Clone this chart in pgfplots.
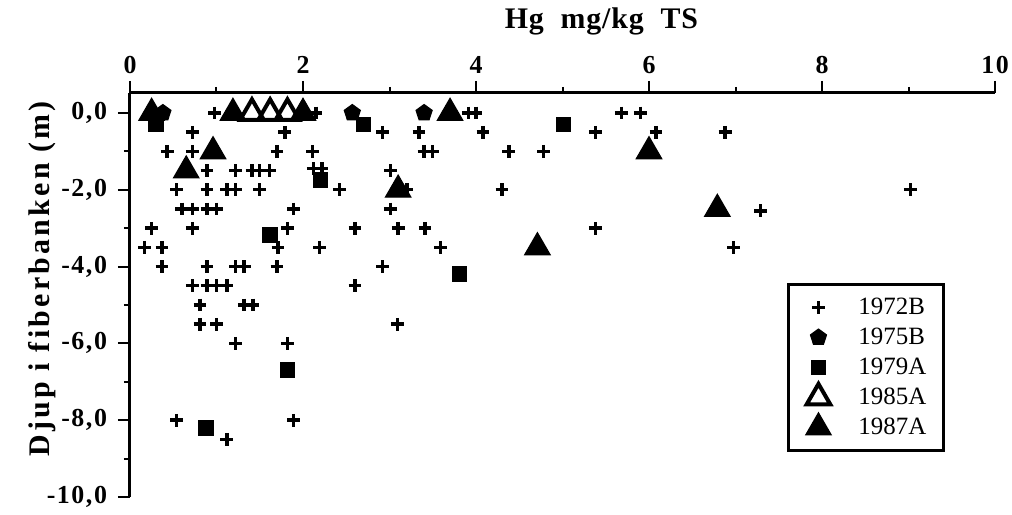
\documentclass[border=0pt]{standalone}
\usepackage{fontspec}
\setmainfont{Liberation Serif}
\usepackage{pgfplots}
\pgfplotsset{compat=1.18}
\pgfplotsset{mylegend/.style={legend image code/.code={\path[draw=none,fill=none] (-6.5bp,-7.5bp) rectangle (6.5bp,7.5bp); \draw[##1] plot coordinates {(0bp,0bp)};}}}
\begin{document}
\begin{tikzpicture}
\useasboundingbox (-65bp,-9bp) rectangle (441bp,248.5bp);
\begin{axis}[
  scale only axis,
  width=432.5bp, height=202bp,
  xmin=0, xmax=10, ymin=-10, ymax=0.52,
  separate axis lines,
  axis x line=top, axis y line=left,
  axis line style={-, line width=1.5bp, black},
  xtick={0,2,4,6,8,10},
  xticklabels={0,2,4,6,8,10},
  minor xtick={1,3,5,7,9},
  ytick={-10,-8,-6,-4,-2,0},
  yticklabels={{-10,0},{-8,0},{-6,0},{-4,0},{-2,0},{0,0}},
  minor ytick={-1,-3,-5,-7,-9},
  tick align=outside,
  major tick length=6bp, minor tick length=3bp,
  every tick/.style={black, line width=1bp},
  tick label style={font=\bfseries\fontsize{13}{15}\selectfont\addfontfeatures{LetterSpace=6}},
  yticklabel style={xshift=-2bp},
  ylabel={Djup i fiberbanken (m)},
  ylabel style={at={(-0.102,0.54)}, anchor=center, font=\bfseries\fontsize{15}{18}\selectfont\addfontfeatures{LetterSpace=11}},
  clip=false,
  legend style={at={(0.7595,0.5297)}, anchor=north west, draw=black, line width=1.5bp,
    font=\fontsize{12.5}{15}\selectfont, inner xsep=8.5bp, inner ysep=4bp,
    column sep=13.5bp, row sep=0pt, nodes={inner sep=0pt}, cells={anchor=west}},
]
\addplot[only marks, mark=+, mark size=3.2bp, mark options={line width=1.7bp}, black, mylegend] coordinates {
(0.98,0) (2.15,0) (3.91,0) (4.00,0) (5.68,0) (5.90,0)
(0.72,-0.5) (1.79,-0.5) (2.92,-0.5) (3.34,-0.5) (4.08,-0.5) (5.38,-0.5) (6.08,-0.5) (6.88,-0.5)
(0.43,-1) (0.72,-1) (1.70,-1) (2.11,-1) (3.40,-1) (3.50,-1) (4.38,-1) (4.78,-1)
(0.89,-1.5) (1.22,-1.5) (1.41,-1.5) (1.50,-1.5) (1.61,-1.5) (2.12,-1.45) (2.22,-1.45) (3.01,-1.5)
(0.54,-2) (0.89,-2) (1.12,-2) (1.22,-2) (1.50,-2) (2.42,-2) (3.20,-2) (4.30,-2) (9.02,-2)
(0.60,-2.5) (0.72,-2.5) (0.89,-2.5) (1.00,-2.5) (1.89,-2.5) (3.01,-2.5) (7.29,-2.55)
(0.25,-3) (0.72,-3) (1.82,-3) (2.60,-3) (3.10,-3) (3.41,-3) (5.38,-3)
(0.17,-3.5) (0.37,-3.5) (1.71,-3.5) (2.19,-3.5) (3.59,-3.5) (6.98,-3.5)
(0.37,-4) (0.89,-4) (1.22,-4) (1.32,-4) (1.70,-4) (2.92,-4)
(0.72,-4.5) (0.89,-4.5) (1.00,-4.5) (1.12,-4.5) (2.60,-4.5)
(0.81,-5) (1.32,-5) (1.42,-5)
(0.81,-5.5) (1.00,-5.5) (3.09,-5.5)
(1.22,-6) (1.82,-6)
(0.54,-8) (1.89,-8)
(1.12,-8.5)
};
\addlegendentry{1972B}
\addplot[only marks, mark=pentagon*, mark size=4.2bp, mark options={line width=0.6bp}, black, mylegend] coordinates {
(0.38,0) (2.57,0) (3.40,0)
};
\addlegendentry{1975B}
\addplot[only marks, mark=square*, mark size=3.6bp, mark options={line width=0.6bp}, black, mylegend] coordinates {
(0.30,-0.3) (2.70,-0.3) (5.01,-0.3) (2.20,-1.75) (1.62,-3.17) (3.81,-4.2) (1.82,-6.7) (0.88,-8.2)
};
\addlegendentry{1979A}
\addplot[only marks, mark=triangle, mark size=6.8bp, mark options={line width=2bp, fill=white}, black, mylegend] coordinates {
(1.41,0) (1.62,0) (1.82,0)
};
\addlegendentry{1985A}
\addplot[only marks, mark=triangle*, mark size=7.3bp, mark options={line width=0.6bp}, black, mylegend] coordinates {
(0.25,0) (1.19,0) (2.00,0) (3.70,0) (0.96,-1.0) (0.65,-1.5) (3.10,-2.0) (6.00,-1.0) (6.79,-2.5) (4.71,-3.5)
};
\addlegendentry{1987A}
\node[font=\bfseries\fontsize{15}{18}\selectfont\addfontfeatures{LetterSpace=3}, anchor=center] at (rel axis cs:0.545,1.176) {Hg\ \ mg/kg\ \ TS};
\end{axis}
\end{tikzpicture}
\end{document}
